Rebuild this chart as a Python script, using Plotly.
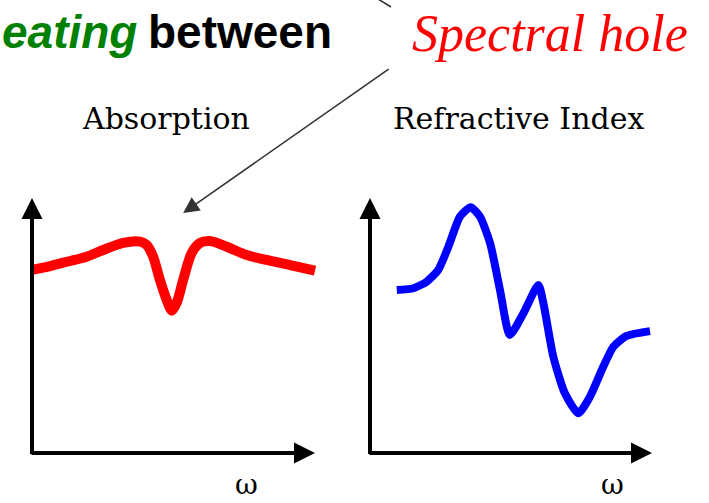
import plotly.graph_objects as go

W, H = 709, 503

# Absorption curve (arbitrary units) with a narrow spectral hole
abs_w = [0.0, 0.64, 1.23, 1.93, 2.51, 3.22, 3.82, 4.05, 4.28, 4.52, 4.76, 4.94,
         5.11, 5.34, 5.64, 5.94, 6.29, 6.88, 7.59, 8.29, 9.12, 10.0]
abs_a = [7.18, 7.33, 7.50, 7.70, 7.96, 8.24, 8.29, 8.16, 7.70, 6.78, 6.00, 5.58,
         5.88, 6.78, 7.84, 8.24, 8.31, 8.09, 7.76, 7.57, 7.37, 7.15]

# Refractive index curve (arbitrary units)
ref_w = [0.95, 1.54, 2.01, 2.42, 2.78, 3.19, 3.57, 3.90, 4.26, 4.61, 4.96, 5.44,
         5.97, 6.15, 6.50, 6.91, 7.39, 7.80, 8.27, 8.63, 9.10, 9.93]
ref_n = [6.39, 6.46, 6.72, 7.18, 8.09, 9.27, 9.64, 9.27, 8.22, 6.39, 4.63, 5.48,
         6.59, 5.87, 3.78, 2.34, 1.56, 2.21, 3.38, 4.17, 4.59, 4.78]

panel_titles = ["Absorption", "Refractive Index"]
axis_label = "ω"

# pixel boxes of each panel: (x at 0, x at 10, y at 0, y at 10)
boxes = [(32, 315, 453, 198), (370, 652, 453, 198)]
PAD = 0.6


def domains(box):
    x0, x1, y0, y1 = box
    sx = (x1 - x0) / 10.0
    sy = (y0 - y1) / 10.0
    xd = [(x0 - PAD * sx) / W, (x1 + PAD * sx) / W]
    yd = [1 - (y0 + PAD * sy) / H, 1 - (y1 - PAD * sy) / H]
    return xd, yd


fig = go.Figure()

fig.add_trace(go.Scatter(x=abs_w, y=abs_a, mode="lines", xaxis="x", yaxis="y",
                         line=dict(color="#ff0000", width=10, shape="spline", smoothing=0.8),
                         hoverinfo="skip"))
fig.add_trace(go.Scatter(x=ref_w, y=ref_n, mode="lines", xaxis="x2", yaxis="y2",
                         line=dict(color="#0000ff", width=8, shape="spline", smoothing=0.6),
                         hoverinfo="skip"))

layout = dict(width=W, height=H, margin=dict(l=0, r=0, t=0, b=0),
              paper_bgcolor="white", plot_bgcolor="white", showlegend=False)
for i, box in enumerate(boxes):
    xd, yd = domains(box)
    sfx = "" if i == 0 else str(i + 1)
    layout["xaxis" + sfx] = dict(domain=xd, range=[-PAD, 10 + PAD], visible=False,
                                 anchor="y" + sfx, fixedrange=True)
    layout["yaxis" + sfx] = dict(domain=yd, range=[-PAD, 10 + PAD], visible=False,
                                 anchor="x" + sfx, fixedrange=True)
fig.update_layout(**layout)

ann = []
# arrowed axes of both panels
for i in range(2):
    sfx = "" if i == 0 else str(i + 1)
    xr, yr = "x" + sfx, "y" + sfx
    ann.append(dict(x=0, y=10, ax=0, ay=-0.1, xref=xr, yref=yr, axref=xr, ayref=yr,
                    text="", showarrow=True, arrowhead=2, arrowsize=1.05,
                    arrowwidth=4, arrowcolor="black"))
    ann.append(dict(x=10, y=0, ax=-0.07, ay=0, xref=xr, yref=yr, axref=xr, ayref=yr,
                    text="", showarrow=True, arrowhead=2, arrowsize=1.05,
                    arrowwidth=4, arrowcolor="black"))

# panel titles
title_x = [166, 518]
for t, cx in zip(panel_titles, title_x):
    ann.append(dict(x=cx / W, y=1 - 118 / H, xref="paper", yref="paper", text=t,
                    showarrow=False, xanchor="center", yanchor="middle",
                    font=dict(family="DejaVu Serif", size=30, color="black")))

# frequency labels
for cx in [246, 612]:
    ann.append(dict(x=cx / W, y=0, xref="paper", yref="paper", text=axis_label,
                    showarrow=False, xanchor="center", yanchor="bottom",
                    font=dict(family="DejaVu Serif", size=28, color="black")))

# heading text
ann.append(dict(x=0, y=1 - 32 / H, xref="paper", yref="paper",
                text="<b><i>eating</i></b>", showarrow=False, xanchor="left", yanchor="middle",
                font=dict(family="Liberation Sans", size=46, color="#008000")))
ann.append(dict(x=146 / W, y=1 - 32 / H, xref="paper", yref="paper",
                text="<b>between</b>", showarrow=False, xanchor="left", yanchor="middle",
                font=dict(family="Liberation Sans", size=46, color="black")))
ann.append(dict(x=550 / W, y=1 - 33 / H, xref="paper", yref="paper",
                text="<i>Spectral hole</i>", showarrow=False, xanchor="center", yanchor="middle",
                font=dict(family="Liberation Serif", size=52, color="#ff0000")))

# pointer to the hole in the absorption curve
ann.append(dict(x=5.34, y=9.41, xref="x", yref="y", ax=207, ay=-145,
                text="", showarrow=True, arrowhead=2, arrowsize=2.0,
                arrowwidth=1.6, arrowcolor="#333333"))

fig.update_layout(annotations=ann)

# short callout stroke at the top edge
fig.add_shape(type="line", xref="paper", yref="paper",
              x0=370 / W, y0=1 + 6 / H, x1=391 / W, y1=1 - 7 / H,
              line=dict(color="#333333", width=1.6))

fig.write_html("out.html")
